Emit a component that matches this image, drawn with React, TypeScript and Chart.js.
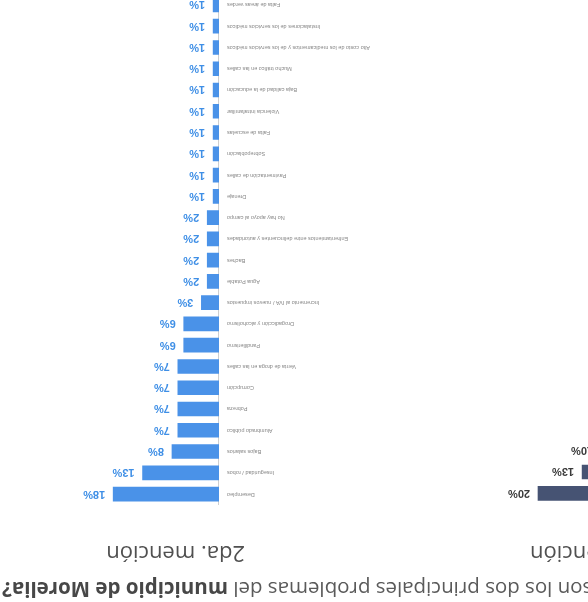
import React, { useEffect, useRef } from 'react';
import { Chart, registerables } from 'chart.js';

Chart.register(...registerables);

const questionStart = '¿Cuáles son los dos principales problemas del ';
const questionBold = 'municipio de Morelia?';
const panel1Title = '1ra. mención';
const panel2Title = '2da. mención';

const categories1 = ['Inseguridad / robos', 'Desempleo', 'Corrupción'];
const values1 = [20, 13, 10];

const categories2 = [
  'Desempleo',
  'Inseguridad / robos',
  'Bajos salarios',
  'Alumbrado público',
  'Pobreza',
  'Corrupción',
  'Venta de droga en las calles',
  'Pandillerismo',
  'Drogadicción y alcoholismo',
  'Incremento al IVA / nuevos impuestos',
  'Agua Potable',
  'Baches',
  'Enfrentamientos entre delincuentes y autoridades',
  'No hay apoyo al campo',
  'Drenaje',
  'Pavimentación de calles',
  'Sobrepoblación',
  'Falta de escuelas',
  'Violencia intrafamiliar',
  'Baja calidad de la educación',
  'Mucho tráfico en las calles',
  'Alto costo de los medicamentos y de los servicios médicos',
  'Instalaciones de los servicios médicos',
  'Falta de áreas verdes',
];
const values2 = [18, 13, 8, 7, 7, 7, 7, 6, 6, 3, 2, 2, 2, 2, 1, 1, 1, 1, 1, 1, 1, 1, 1, 1];

function valueLabels(color: string, font: string) {
  return {
    id: 'valueLabels',
    afterDatasetsDraw(chart: any) {
      const ctx = chart.ctx;
      const meta = chart.getDatasetMeta(0);
      const data = chart.data.datasets[0].data;
      ctx.save();
      ctx.font = font;
      ctx.fillStyle = color;
      ctx.textBaseline = 'middle';
      ctx.textAlign = 'left';
      meta.data.forEach((el: any, i: number) => {
        ctx.fillText(data[i] + '%', el.x + 8, el.y + 0.5);
      });
      ctx.restore();
    },
  };
}

export default function App() {
  const ref1 = useRef<HTMLCanvasElement>(null);
  const ref2 = useRef<HTMLCanvasElement>(null);

  useEffect(() => {
    const c1 = new Chart(ref1.current as HTMLCanvasElement, {
      type: 'bar',
      data: {
        labels: categories1,
        datasets: [{ data: values1, backgroundColor: '#465373', barThickness: 14 }],
      },
      options: {
        indexAxis: 'y',
        responsive: false,
        animation: false,
        devicePixelRatio: 1,
        layout: { padding: { left: 124, right: 18.5, top: 0, bottom: 0 } },
        plugins: { legend: { display: false }, tooltip: { enabled: false } },
        scales: {
          x: { display: false, min: 0, max: 25 },
          y: { display: false },
        },
      } as any,
      plugins: [valueLabels('#3a3a3a', 'bold 11px "Liberation Sans"')],
    });

    const c2 = new Chart(ref2.current as HTMLCanvasElement, {
      type: 'bar',
      data: {
        labels: categories2,
        datasets: [{ data: values2, backgroundColor: '#4a92e8', barThickness: 14 }],
      },
      options: {
        indexAxis: 'y',
        responsive: false,
        animation: false,
        devicePixelRatio: 1,
        layout: { padding: { left: 0, right: 53, top: 0, bottom: 0 } },
        plugins: { legend: { display: false }, tooltip: { enabled: false } },
        scales: {
          x: { display: false, min: 0, max: 25 },
          y: {
            afterFit(scale: any) {
              scale.width = 200;
            },
            grid: { display: false, drawTicks: false },
            border: { display: true, color: '#cfcfcf', width: 1 },
            ticks: {
              autoSkip: false,
              padding: 8,
              color: '#858585',
              font: { size: 5.5, family: '"Liberation Sans", Arial, sans-serif' },
            },
          },
        },
      } as any,
      plugins: [valueLabels('#3f8fe6', 'bold 11px "Liberation Sans"')],
    });

    return () => {
      c1.destroy();
      c2.destroy();
    };
  }, []);

  return (
    <div
      style={{
        position: 'fixed',
        left: 0,
        top: 0,
        width: 588,
        height: 602,
        overflow: 'hidden',
        background: '#ffffff',
        transform: 'rotate(180deg)',
        fontFamily: '"Open Sans", sans-serif',
      }}
    >
      <div
        style={{
          position: 'absolute',
          right: 2,
          top: 0,
          whiteSpace: 'nowrap',
          fontSize: 20.5,
          color: '#5a5a5a',
          lineHeight: '24px',
        }}
      >
        {questionStart}
        <b style={{ color: '#474747' }}>{questionBold}</b>
      </div>
      <div
        style={{
          position: 'absolute',
          right: 530,
          top: 33,
          whiteSpace: 'nowrap',
          fontSize: 22,
          color: '#505050',
          lineHeight: '28px',
        }}
      >
        {panel1Title}
      </div>
      <div
        style={{
          position: 'absolute',
          left: 343,
          top: 33,
          whiteSpace: 'nowrap',
          fontSize: 22,
          color: '#505050',
          lineHeight: '28px',
        }}
      >
        {panel2Title}
      </div>
      <canvas
        ref={ref1}
        width={300}
        height={64}
        style={{ position: 'absolute', left: -200, top: 98, width: 300, height: 64 }}
      />
      <canvas
        ref={ref2}
        width={400}
        height={533}
        style={{ position: 'absolute', left: 169, top: 86, width: 400, height: 533 }}
      />
    </div>
  );
}
